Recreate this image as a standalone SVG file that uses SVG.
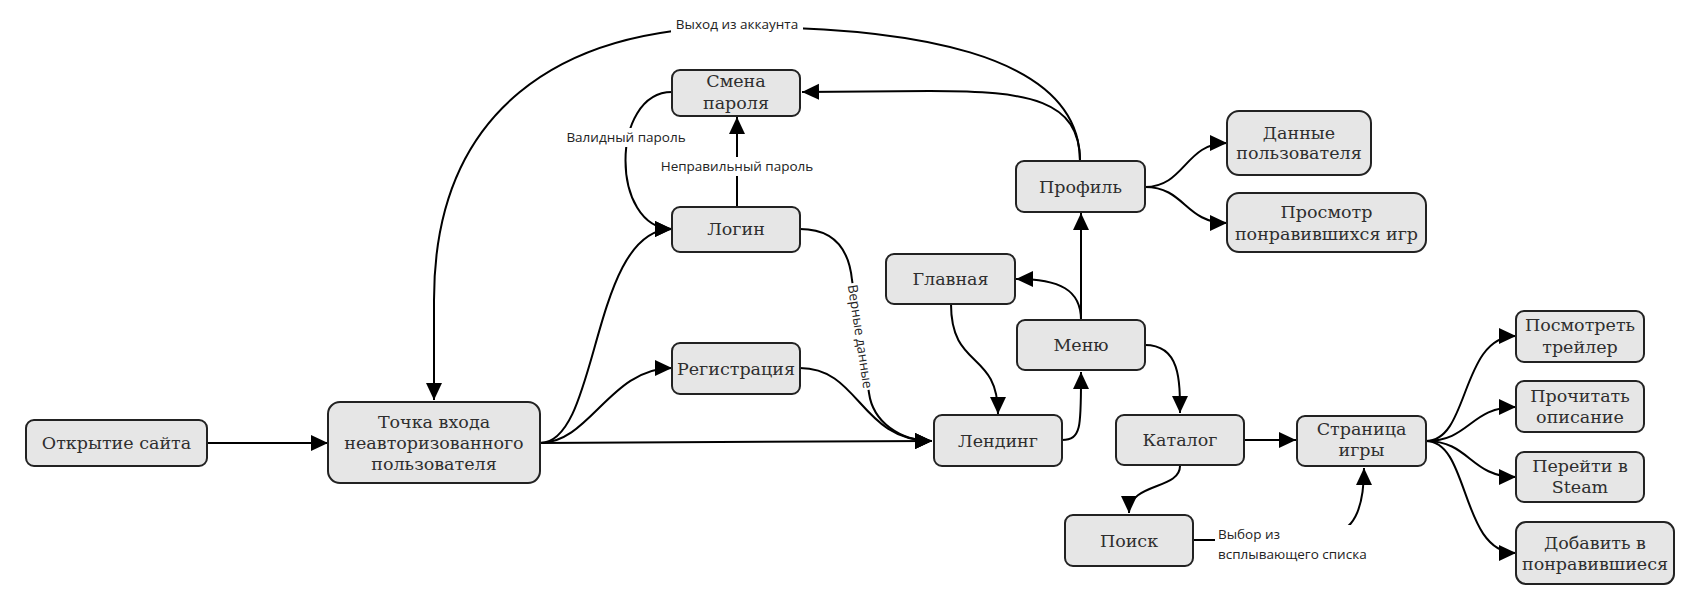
<svg xmlns="http://www.w3.org/2000/svg" width="1686" height="592" viewBox="0 0 1686 592">
<style>
.node rect{fill:#e6e6e6;stroke:#222;stroke-width:2}
.node text{font-family:"DejaVu Serif",serif;font-size:17.5px;fill:#2e2e2e;text-anchor:middle}
.conn path{fill:none;stroke:#000;stroke-width:2;marker-end:url(#arr)}
.lbl rect{fill:#fff}
.lbl text{font-family:"Open Sans","Noto Sans",sans-serif;font-size:13.5px;fill:#222}
</style>
<defs>
<marker id="arr" markerUnits="userSpaceOnUse" markerWidth="18" markerHeight="18" refX="17" refY="8" orient="auto">
<path d="M0,0 L17,8 L0,16 z" fill="#000"/>
</marker>
</defs>
<rect width="1686" height="592" fill="#fff"/>
<g id="connectors" class="conn">
<path d="M207,443 L328,443"/>
<path d="M540,443 C600,443 590,229 672,229"/>
<path d="M540,443 C590,443 610,368 672,368"/>
<path d="M540,443 L932,441"/>
<path d="M800,229 C835,229 849,250 852,280 L869,393 C873,422 900,441 932,441"/>
<path d="M800,368 C860,368 860,441 932,441"/>
<path d="M951,304 C951,370 998,350 998,414"/>
<path d="M1062,440 C1082,440 1081,425 1081,372"/>
<path d="M1081,320 C1081,290 1060,279 1016,279"/>
<path d="M1081,320 L1081,213"/>
<path d="M1080,161 C1080,100 1030,91 930,91 L802,92"/>
<path d="M1080,161 C1080,50 900,27 740,27 C560,27 434,110 434,300 L434,400"/>
<path d="M737,206 L737,117"/>
<path d="M672,92 C610,92 610,229 672,229"/>
<path d="M1145,345 C1180,345 1180,380 1180,413"/>
<path d="M1180,466 C1180,490 1129,482 1129,513"/>
<path d="M1244,440 L1296,440"/>
<path d="M1193,540 L1300,540 C1350,540 1364,520 1364,468"/>
<path d="M1426,441 C1470,441 1460,336 1516,336"/>
<path d="M1426,441 C1470,441 1470,407 1516,407"/>
<path d="M1426,441 C1470,441 1470,477 1516,477"/>
<path d="M1426,441 C1470,441 1460,553 1516,553"/>
<path d="M1145,187 C1185,187 1185,143 1227,143"/>
<path d="M1145,187 C1185,187 1185,223 1227,223"/>
</g>
<g id="labels" class="lbl">
<g id="lbl-logout"><rect x="671" y="15" width="132" height="20"/><text x="737" y="29" text-anchor="middle">Выход из аккаунта</text></g>
<g id="lbl-wrongpass"><rect x="658" y="157" width="158" height="19"/><text x="737" y="171" text-anchor="middle">Неправильный пароль</text></g>
<g id="lbl-validpass"><rect x="563" y="128" width="126" height="19"/><text x="626" y="142" text-anchor="middle">Валидный пароль</text></g>
<g id="lbl-correct" transform="translate(860.5,336.5) rotate(81.4)"><rect x="-54" y="-9" width="108" height="18"/><text x="0" y="5" text-anchor="middle">Верные данные</text></g>
<g id="lbl-select"><rect x="1215" y="525" width="158" height="40"/><text x="1218" y="539">Выбор из</text><text x="1218" y="559">всплывающего списка</text></g>
</g>
<g id="n-open" class="node"><rect x="26" y="420" width="181" height="46" rx="8"/><text x="116.5" y="449">Открытие сайта</text></g>
<g id="n-entry" class="node"><rect x="328" y="402" width="212" height="81" rx="12"/><text x="434" y="428">Точка входа</text><text x="434" y="449">неавторизованного</text><text x="434" y="470">пользователя</text></g>
<g id="n-chpass" class="node"><rect x="672" y="70" width="128" height="46" rx="8"/><text x="736" y="87">Смена</text><text x="736" y="108.5">пароля</text></g>
<g id="n-login" class="node"><rect x="672" y="207" width="128" height="45" rx="8"/><text x="736" y="235">Логин</text></g>
<g id="n-reg" class="node"><rect x="672" y="343" width="128" height="51" rx="8"/><text x="736" y="374.5">Регистрация</text></g>
<g id="n-main" class="node"><rect x="886" y="254" width="129" height="50" rx="8"/><text x="950.5" y="285">Главная</text></g>
<g id="n-profile" class="node"><rect x="1016" y="161" width="129" height="51" rx="8"/><text x="1080.5" y="192.5">Профиль</text></g>
<g id="n-menu" class="node"><rect x="1017" y="320" width="128" height="50" rx="8"/><text x="1081" y="351">Меню</text></g>
<g id="n-landing" class="node"><rect x="934" y="415" width="128" height="51" rx="8"/><text x="998" y="446.5">Лендинг</text></g>
<g id="n-userdata" class="node"><rect x="1227" y="111" width="144" height="64" rx="12"/><text x="1299" y="138.5">Данные</text><text x="1299" y="159">пользователя</text></g>
<g id="n-liked" class="node"><rect x="1227" y="193" width="199" height="59" rx="12"/><text x="1326.5" y="218">Просмотр</text><text x="1326.5" y="239.5">понравившихся игр</text></g>
<g id="n-catalog" class="node"><rect x="1116" y="415" width="128" height="50" rx="8"/><text x="1180" y="446">Каталог</text></g>
<g id="n-search" class="node"><rect x="1065" y="515" width="128" height="51" rx="8"/><text x="1129" y="546.5">Поиск</text></g>
<g id="n-game" class="node"><rect x="1297" y="416" width="129" height="50" rx="8"/><text x="1361.5" y="434.5">Страница</text><text x="1361.5" y="456">игры</text></g>
<g id="n-trailer" class="node"><rect x="1516" y="311" width="128" height="51" rx="8"/><text x="1580" y="331">Посмотреть</text><text x="1580" y="353">трейлер</text></g>
<g id="n-desc" class="node"><rect x="1516" y="381" width="128" height="51" rx="8"/><text x="1580" y="402">Прочитать</text><text x="1580" y="423">описание</text></g>
<g id="n-steam" class="node"><rect x="1516" y="452" width="128" height="50" rx="8"/><text x="1580" y="472">Перейти в</text><text x="1580" y="493">Steam</text></g>
<g id="n-fav" class="node"><rect x="1516" y="522" width="158" height="62" rx="10"/><text x="1595" y="548.5">Добавить в</text><text x="1595" y="570">понравившиеся</text></g>
</svg>
